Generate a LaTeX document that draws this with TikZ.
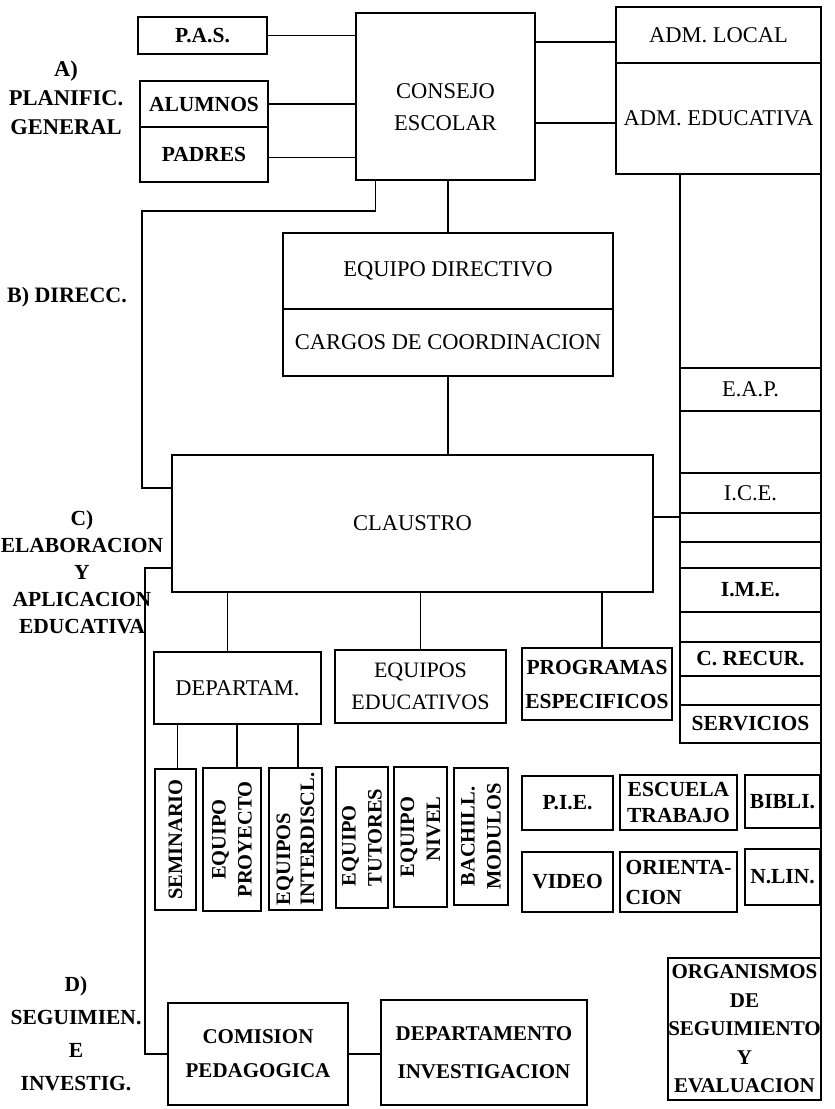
\documentclass[tikz,border=0pt]{standalone}
\usepackage{fontspec}
\setmainfont{Liberation Serif}
% size / line distance
\newcommand\fs[2]{\fontsize{#1}{#2}\selectfont}
% box from corners: [style]{name}{x1}{y1}{x2}{y2}{text}
\newcommand\bx[7][]{%
  \node[box,minimum width={#5-#3},minimum height={#6-#4},#1] (#2)
    at ({(#3+#5)/2},{(#4+#6)/2}) {#7};}
% upright box holding text that runs bottom to top
\newcommand\vbx[7][]{%
  \node[box,rotate=90,minimum width={#6-#4},minimum height={#5-#3},#1] (#2)
    at ({(#3+#5)/2},{(#4+#6)/2}) {#7};}
\begin{document}
\begin{tikzpicture}[x=1pt,y=-1pt,
  box/.style={draw,line width=1.4pt,inner sep=0pt,outer sep=0pt,align=center,font=\fs{22.5}{30}},
  bf/.style={font=\fs{21.5}{30}\bfseries},
  lbl/.style={inner sep=0pt,align=center},
  conn/.style={line width=1.4pt}]
\useasboundingbox[fill=white] (0,0) rectangle (835,1109);

% A) general planning level
\node[lbl,font=\fs{22.5}{29}\bfseries] (lA) at (66,98) {A)\\PLANIFIC.\\GENERAL};
\bx[bf]{PAS}{138}{17}{267}{54}{P.A.S.}
\bx[bf]{ALUMNOS}{140}{81}{268}{127}{ALUMNOS}
\bx[bf]{PADRES}{140}{127}{268}{182}{PADRES}
\bx[label={[lbl,font=\fs{22.5}{32},yshift=-11pt]center:CONSEJO\\ESCOLAR}]{CONSEJO}{356}{13}{535}{180}{}
\bx{ADMLOC}{616}{7}{821}{63}{ADM. LOCAL}
\bx{ADMEDU}{616}{63}{821}{174}{ADM. EDUCATIVA}

% right-hand column of services
\bx{colTop}{680}{174}{821}{368}{}
\bx{EAP}{680}{368}{821}{411}{E.A.P.}
\bx{colB}{680}{411}{821}{473}{}
\bx{ICE}{680}{473}{821}{513}{I.C.E.}
\bx{colD}{680}{513}{821}{542}{}
\bx{colE}{680}{542}{821}{568}{}
\bx[bf]{IME}{680}{568}{821}{612}{I.M.E.}
\bx{colG}{680}{612}{821}{642}{}
\bx[bf]{CREC}{680}{642}{821}{676}{C. RECUR.}
\bx{colI}{680}{676}{821}{705}{}
\bx[bf]{SERV}{680}{705}{821}{743}{SERVICIOS}

% B) management
\node[lbl,font=\fs{22}{28}\bfseries] (lB) at (67,297) {B) DIRECC.};
\bx{EQDIR}{283}{233}{613}{309}{EQUIPO DIRECTIVO}
\bx{CARGOS}{283}{309}{613}{376}{CARGOS DE COORDINACION}

% C) educational design and practice
\node[lbl,font=\fs{21.5}{27}\bfseries] (lC) at (82,572) {C)\\ELABORACION\\Y\\APLICACION\\EDUCATIVA};
\bx{CLAUSTRO}{172}{455}{653}{592}{CLAUSTRO}
\bx{DEPARTAM}{154}{652}{321}{724}{DEPARTAM.}
\bx[font=\fs{22}{32}]{EQUIPOS}{335}{650}{506}{723}{EQUIPOS\\EDUCATIVOS}
\bx[font=\fs{21.5}{34}\bfseries]{PROGRAMAS}{522}{648}{672}{720}{PROGRAMAS\\ESPECIFICOS}

\vbx[font=\fs{20.5}{26}\bfseries]{SEM}{155}{769}{196}{910}{SEMINARIO}
\vbx[font=\fs{20.5}{26}\bfseries]{PROY}{203}{768}{261}{911}{EQUIPO\\PROYECTO}
\vbx[font=\fs{20.5}{24}\bfseries,align=left]{INTER}{269}{768}{322}{910}{EQUIPOS\\INTERDISCL.}
\vbx[font=\fs{20.5}{26}\bfseries,align=left]{TUT}{336}{767}{388}{908}{EQUIPO\\TUTORES}
\vbx[font=\fs{20.5}{26}\bfseries,align=right]{NIV}{394}{767}{447}{907}{EQUIPO\\NIVEL}
\vbx[font=\fs{20.5}{26}\bfseries]{BACH}{454}{768}{508}{905}{BACHILL.\\MODULOS}

\bx[bf]{PIE}{522}{776}{613}{830}{P.I.E.}
\bx[font=\fs{21.5}{26}\bfseries]{ESC}{620}{775}{737}{830}{ESCUELA\\TRABAJO}
\bx[bf]{BIB}{745}{775}{820}{828}{BIBLI.}
\bx[bf]{VID}{522}{852}{613}{912}{VIDEO}
\bx[font=\fs{21.5}{30}\bfseries,align=left]{ORI}{620}{852}{737}{912}{ORIENTA-\\CION}
\bx[bf]{NLIN}{745}{849}{820}{905}{N.LIN.}

% D) follow-up and research
\node[lbl,font=\fs{21.5}{33}\bfseries] (lD) at (76,1034) {D)\\SEGUIMIEN.\\E\\INVESTIG.};
\bx[font=\fs{21}{34}\bfseries]{COM}{168}{1003}{348}{1105}{COMISION\\PEDAGOGICA}
\bx[font=\fs{21}{38}\bfseries]{DEPINV}{381}{1000}{587}{1105}{DEPARTAMENTO\\INVESTIGACION}
\bx[font=\fs{21}{28.5}\bfseries]{ORG}{668}{958}{821}{1100}{ORGANISMOS\\DE\\SEGUIMIENTO\\Y\\EVALUACION}

% connectors
\coordinate (kB) at (142,211);
\coordinate (kC) at (145,1054);
\begin{scope}[conn]
\draw (PAS.east) -- (PAS.east -| CONSEJO.west);
\draw (ALUMNOS.east) -- (ALUMNOS.east -| CONSEJO.west);
\draw ([yshift=-3pt]PADRES.east) -- ([yshift=-3pt]PADRES.east -| CONSEJO.west);
\draw ([yshift=-7pt]ADMLOC.west) -- ([yshift=-7pt]ADMLOC.west -| CONSEJO.east);
\draw ([yshift=-4.5pt]ADMEDU.west) -- ([yshift=-4.5pt]ADMEDU.west -| CONSEJO.east);
\draw ([xshift=-70pt]CONSEJO.south) |- (kB) |- ([yshift=35.5pt]CLAUSTRO.west);
\draw (EQDIR.north |- CONSEJO.south) -- (EQDIR.north);
\draw (CARGOS.south) -- (CARGOS.south |- CLAUSTRO.north);
\draw ([yshift=-44.5pt]CLAUSTRO.west) -| (kC) -- (COM.west);
\draw (COM.east) -- (DEPINV.west |- COM.east);
\draw ([yshift=6.5pt]CLAUSTRO.east) -- ([yshift=6.5pt]CLAUSTRO.east -| colD.west);
\draw ([xshift=-10pt]DEPARTAM.north) -- ([xshift=-10pt]DEPARTAM.north |- CLAUSTRO.south);
\draw (EQUIPOS.north) -- (EQUIPOS.north |- CLAUSTRO.south);
\draw ([xshift=5pt]PROGRAMAS.north) -- ([xshift=5pt]PROGRAMAS.north |- CLAUSTRO.south);
\draw ([xshift=2pt]SEM.east) -- ([xshift=2pt]SEM.east |- DEPARTAM.south);
\draw ([xshift=5pt]PROY.east) -- ([xshift=5pt]PROY.east |- DEPARTAM.south);
\draw ([xshift=2.5pt]INTER.east) -- ([xshift=2.5pt]INTER.east |- DEPARTAM.south);
\draw (SERV.south east) -- (ORG.north east);
\end{scope}
\end{tikzpicture}
\end{document}
